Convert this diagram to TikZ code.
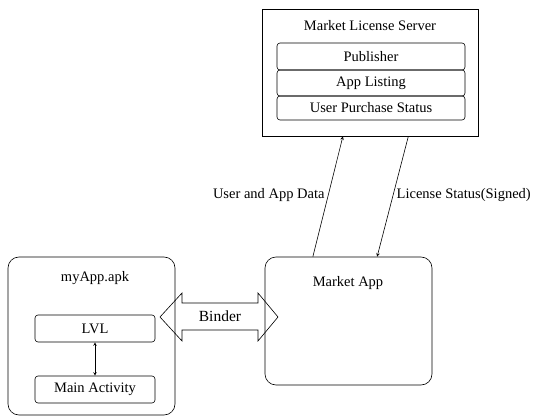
\documentclass[tikz,border=0pt]{standalone}
\usepackage{fontspec}
\setmainfont{Liberation Serif}
\usepackage{tikz}

\begin{document}
\begin{tikzpicture}[x=1pt,y=-1pt]

%
% Styles
%
\tikzstyle{txt}   = [font=\fontsize{14.5}{16}\selectfont]
\tikzstyle{outer} = [draw,line width=0.6pt,rounded corners=11pt]
\tikzstyle{inner} = [draw,line width=0.6pt,rounded corners=3pt,txt,inner sep=0pt]
\tikzstyle{edge}  = [->,>=stealth,line width=0.6pt]

\useasboundingbox (0,0) rectangle (533,417);

% license server and its parts
\node[draw,line width=0.6pt,minimum width=216pt,minimum height=127pt] (server) at (370,72.5) {};
\node[txt] (servertitle) at (370,26) {Market License Server};
\node[inner,minimum width=188pt,minimum height=27pt] (publisher) at (371,56.5) {Publisher};
\node[inner,minimum width=188pt,minimum height=26pt] (listing)   at (371,83) {App Listing};
\node[inner,minimum width=188pt,minimum height=24pt] (purchase)  at (371,108) {User Purchase Status};

% market app
\node[outer,minimum width=167pt,minimum height=128pt] (marketapp) at (348.5,321) {};
\node[txt] (markettitle) at (348,283) {Market App};

% the application
\node[outer,minimum width=167pt,minimum height=158pt] (myapp) at (91.5,336) {};
\node[txt] (apptitle) at (95,278) {myApp.apk};
\node[inner,minimum width=120pt,minimum height=27pt] (lvl)     at (95,328.5) {LVL};
\node[inner,minimum width=120pt,minimum height=27pt] (mainact) at (95,389.5) {Main Activity};

\draw[<->,>=stealth,line width=0.6pt] (lvl) -- (mainact);

% binder
\draw[line width=0.6pt] (160,317) -- (182,293) -- (182,303) -- (258,303) -- (258,293)
  -- (278,317) -- (258,341) -- (258,330) -- (182,330) -- (182,341) -- cycle;
\node[font=\fontsize{15.5}{17}\selectfont] (binder) at (220,316) {Binder};

% messages
\draw[edge] (marketapp.119) -- node[txt,left,pos=0.51] {User and App Data} (server.247);
\draw[edge] (server.301) -- node[txt,right,pos=0.49] {License Status(Signed)} (marketapp.66);

\end{tikzpicture}
\end{document}
